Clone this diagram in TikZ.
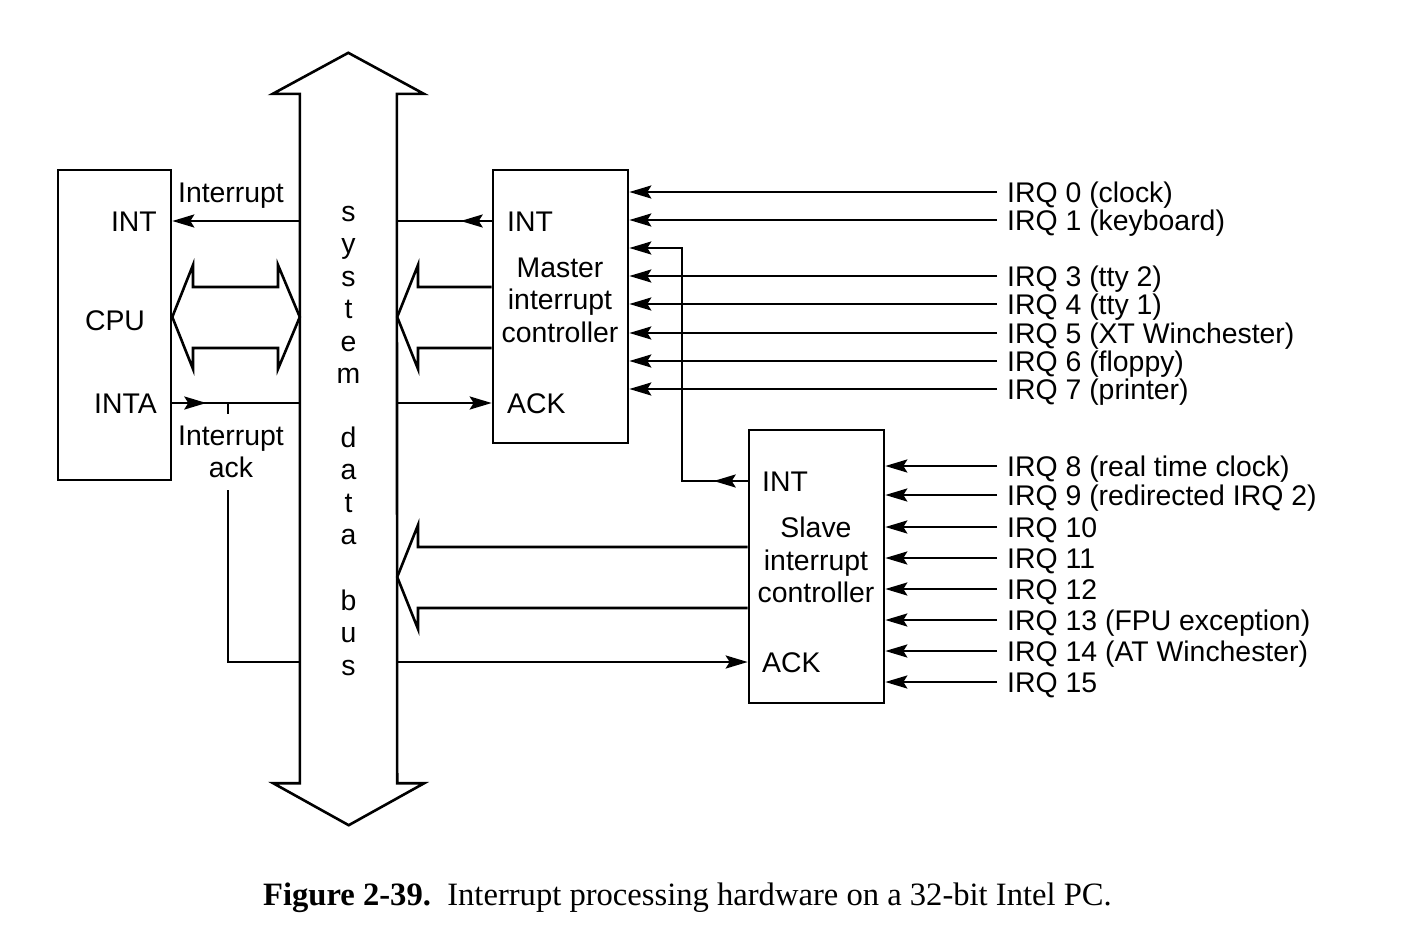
\documentclass[tikz,border=0pt]{standalone}
\usepackage{fontspec}
\setmainfont{Liberation Sans}
\newfontfamily\capfont{Liberation Serif}
\usetikzlibrary{arrows.meta}

\tikzset{
  box/.style={draw, line width=2.6pt, inner sep=0pt},
  wire/.style={line width=2.6pt},
  sig/.style={wire, -{Stealth[length=22pt,width=13pt,inset=4pt]}},
  lbl/.style={inner sep=0pt, text height=20.4pt, text depth=0pt},
  irq/.style={lbl, anchor=west, inner xsep=10pt},
}

\begin{document}
\begin{tikzpicture}[x=1pt, y=-1pt, every node/.style={font=\fontsize{28.4pt}{32.5pt}\selectfont}]
\useasboundingbox (0,0) rectangle (1426,932);

%cpu%
\node[box, minimum width=113pt, minimum height=310pt] (cpu) at (114.5,325) {};
\node[lbl, anchor=east] (cpuint) at (157,221) {INT};
\node[lbl] (cpuname) at (115,320) {CPU};
\node[lbl, anchor=east] (cpuinta) at (157,403) {INTA};

%bus%
\node[minimum width=97pt, minimum height=689pt, inner sep=0pt] (bus) at (348.5,438.5) {};
\draw[wire] (bus.south west) -- (bus.north west) -- ++(-27,0) -- ++(75.5,-41) -- ++(75.5,41) -- ++(-27,0)
  -- (bus.south east) -- ++(27,0) -- ++(-75.5,42) -- ++(-75.5,-42) -- cycle;
\node[align=center, anchor=north, inner sep=0pt] (busname) at (348.5,206) {s\\y\\s\\t\\e\\m\\[31pt]d\\a\\t\\a\\[33pt]b\\u\\s};

%master%
\node[box, minimum width=135pt, minimum height=273pt] (master) at (560.5,306.5) {};
\node[lbl, anchor=west] (mint) at (507,221) {INT};
\node[align=center] (mname) at (560,300) {Master\\interrupt\\controller};
\node[lbl, anchor=west] (mack) at (507,403) {ACK};

%slave%
\node[box, minimum width=135pt, minimum height=273pt] (slave) at (816.5,566.5) {};
\node[lbl, anchor=west] (sint) at (762,481) {INT};
\node[align=center] (sname) at (816,560) {Slave\\interrupt\\controller};
\node[lbl, anchor=west] (sack) at (762,662) {ACK};

%cpu and bus%
\node[lbl] (intlbl) at (231,192) {Interrupt};
\draw[sig] (bus.west |- cpuint) -- (cpu.east |- cpuint);
\coordinate (inta) at (cpu.east |- cpuinta);
\draw[sig] (inta) -- ++(34,0);
\draw[wire] (inta) -- (bus.west |- inta);
\coordinate (ackjoin) at (228,403);
\node[align=center, minimum height=76pt, inner sep=0pt] (intack) at (231,452) {Interrupt\\ack};
\draw[wire] (ackjoin) -- (ackjoin |- intack.north);
\draw[wire] (ackjoin |- intack.south) |- (bus.west |- sack);
\draw[wire] (cpu.east |- 0,317) -- (193,265) -- (193,287) -- (278,287) -- (278,265) -- (bus.west |- 0,317)
  -- (278,369) -- (278,348) -- (193,348) -- (193,369) -- cycle;

%master and bus%
\draw[wire] (master.west |- 0,287) -- (418,287) -- (418,265) -- (bus.east |- 0,317) -- (418,369) -- (418,348) -- (master.west |- 0,348);
\draw[sig] (master.west |- mint) -- ++(-31,0);
\draw[wire] (master.west |- mint) -- (bus.east |- mint);
\draw[sig] (bus.east |- mack) -- (master.west |- mack);

%slave and bus%
\draw[wire] (slave.west |- 0,547) -- (418,547) -- (418,525) -- (bus.east |- 0,577) -- (418,629) -- (418,608) -- (slave.west |- 0,608);
\draw[sig] (bus.east |- sack) -- (slave.west |- sack);
\draw[sig] (slave.west |- sint) -- ++(-34,0);
\draw[sig] (slave.west |- sint) -| (682,248) -- (master.east |- 0,248);

%master irq%
\node[irq] (irq0) at (997,192) {IRQ 0 (clock)};
\node[irq] (irq1) at (997,220) {IRQ 1 (keyboard)};
\node[irq] (irq3) at (997,276) {IRQ 3 (tty 2)};
\node[irq] (irq4) at (997,304) {IRQ 4 (tty 1)};
\node[irq] (irq5) at (997,333) {IRQ 5 (XT Winchester)};
\node[irq] (irq6) at (997,361) {IRQ 6 (floppy)};
\node[irq] (irq7) at (997,389) {IRQ 7 (printer)};
\draw[sig] (irq0.west) -- (irq0.west -| master.east);
\draw[sig] (irq1.west) -- (irq1.west -| master.east);
\draw[sig] (irq3.west) -- (irq3.west -| master.east);
\draw[sig] (irq4.west) -- (irq4.west -| master.east);
\draw[sig] (irq5.west) -- (irq5.west -| master.east);
\draw[sig] (irq6.west) -- (irq6.west -| master.east);
\draw[sig] (irq7.west) -- (irq7.west -| master.east);

%slave irq%
\node[irq] (irq8) at (997,466) {IRQ 8 (real time clock)};
\node[irq] (irq9) at (997,495) {IRQ 9 (redirected IRQ 2)};
\node[irq] (irq10) at (997,527) {IRQ 10};
\node[irq] (irq11) at (997,558) {IRQ 11};
\node[irq] (irq12) at (997,589) {IRQ 12};
\node[irq] (irq13) at (997,620) {IRQ 13 (FPU exception)};
\node[irq] (irq14) at (997,651) {IRQ 14 (AT Winchester)};
\node[irq] (irq15) at (997,682) {IRQ 15};
\draw[sig] (irq8.west) -- (irq8.west -| slave.east);
\draw[sig] (irq9.west) -- (irq9.west -| slave.east);
\draw[sig] (irq10.west) -- (irq10.west -| slave.east);
\draw[sig] (irq11.west) -- (irq11.west -| slave.east);
\draw[sig] (irq12.west) -- (irq12.west -| slave.east);
\draw[sig] (irq13.west) -- (irq13.west -| slave.east);
\draw[sig] (irq14.west) -- (irq14.west -| slave.east);
\draw[sig] (irq15.west) -- (irq15.west -| slave.east);

%caption%
\node[font=\capfont\fontsize{32.6pt}{38pt}\selectfont, anchor=base] (caption) at (687.5,905) {\textbf{Figure 2-39.}\hspace{0.5em}Interrupt processing hardware on a 32-bit Intel PC.};
\end{tikzpicture}
\end{document}
